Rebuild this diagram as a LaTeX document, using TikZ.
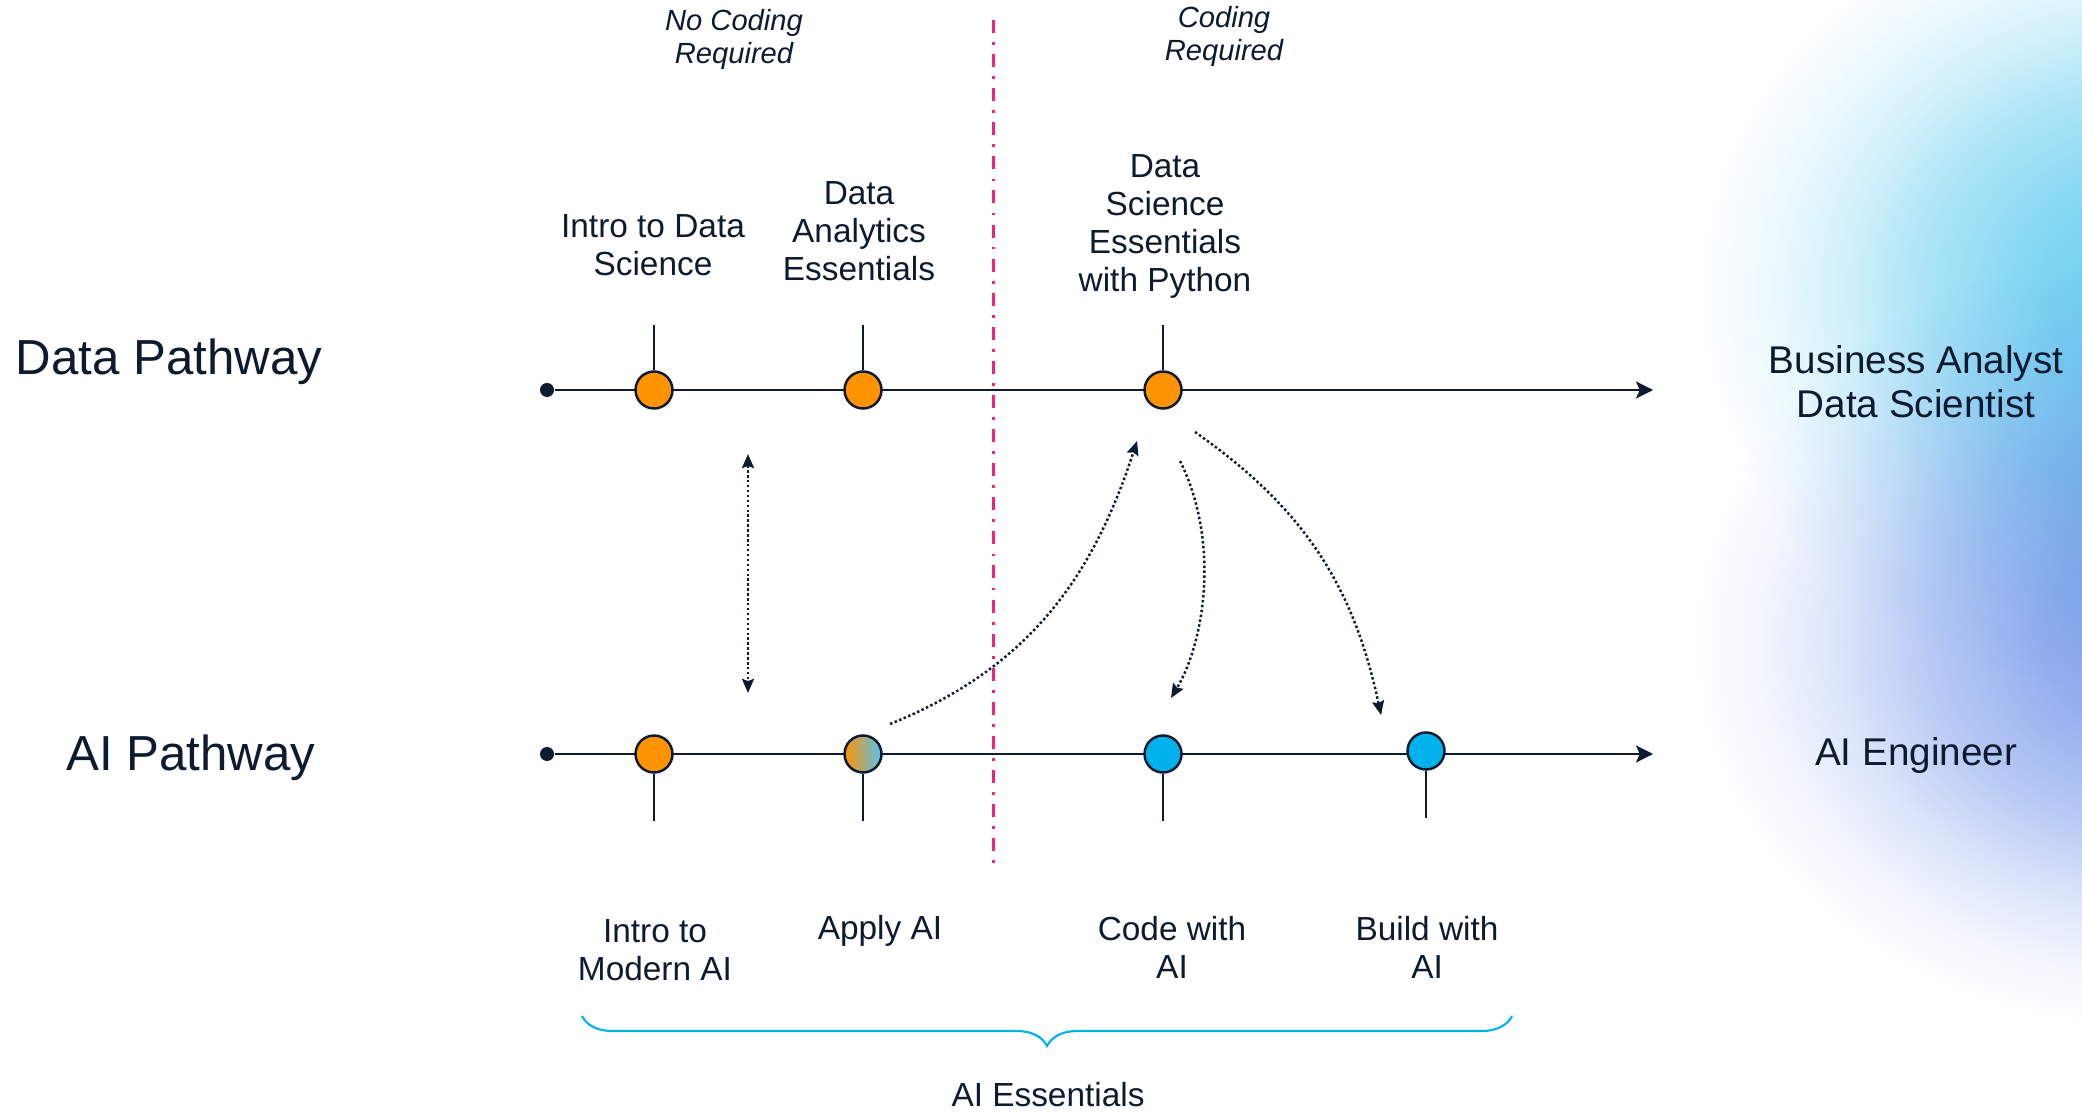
\documentclass[tikz,border=0pt]{standalone}
\usepackage{fontspec}
\setmainfont{Liberation Sans}
\usetikzlibrary{arrows.meta,decorations.pathreplacing}
\definecolor{ink}{HTML}{0E1A2F}
\definecolor{coral}{HTML}{FF9300}
\definecolor{sky}{HTML}{00B2EC}
\definecolor{rose}{HTML}{F2217C}
\definecolor{blend}{HTML}{D8A79B}
\definecolor{paleSky}{HTML}{55C3F0}
\definecolor{glowcyan}{HTML}{6CD0F0}
\definecolor{glowblue}{HTML}{86A4EC}
\pgfdeclareradialshading{cyanglow}{\pgfpointorigin}{color(0bp)=(glowcyan); color(4bp)=(glowcyan!88!white); color(8.5bp)=(glowcyan!58!white); color(12bp)=(glowcyan!28!white); color(15bp)=(glowcyan!9!white); color(17.5bp)=(white); color(50bp)=(white)}
\pgfdeclareradialshading{blueglow}{\pgfpointorigin}{color(0bp)=(glowblue); color(4bp)=(glowblue!88!white); color(8.5bp)=(glowblue!58!white); color(12bp)=(glowblue!28!white); color(15bp)=(glowblue!9!white); color(17.5bp)=(white); color(50bp)=(white)}
\tikzset{
    course/.style={circle,draw=ink,line width=0.7pt,minimum size=0.37cm,inner sep=0pt},
    startdot/.style={circle,fill=ink,minimum size=0.14cm,inner sep=0pt},
    timeline/.style={ink,line width=0.8pt,-{Stealth[length=4.8pt,width=4.8pt,inset=1pt]}},
    stem/.style={ink,line width=0.65pt},
    divider/.style={rose,line width=0.85pt,dash pattern=on 3.7pt off 2.6pt on 0.8pt off 2.6pt},
    hop/.style={ink,line width=0.7pt,dash pattern=on 0.7pt off 0.7pt},
    hoptip/.style={-{Stealth[length=4pt,width=3.4pt,inset=0.6pt]}},
    hopboth/.style={{Stealth[length=4pt,width=3.4pt,inset=0.6pt]}-{Stealth[length=4pt,width=3.4pt,inset=0.6pt]}},
    lbl/.style={text=ink,align=center,inner sep=0pt,font=\fontsize{9.5}{10.8}\selectfont},
    note/.style={text=ink,align=center,inner sep=0pt,font=\fontsize{8.3}{9.4}\selectfont\itshape},
    big/.style={text=ink,inner sep=0pt,anchor=base,font=\fontsize{14}{16}\selectfont},
    role/.style={text=ink,align=center,inner sep=0pt,font=\fontsize{11}{12.5}\selectfont},
    brace/.style={sky,line width=0.6pt,decorate,decoration={brace,mirror,amplitude=0.3cm}},
    glow/.style={shading=#1,blend mode=multiply}
}

\begin{document}
\begin{tikzpicture}
        \useasboundingbox (0,0) rectangle (20.82,11.11);
        \begin{scope}
            \clip (0,0) rectangle (20.82,11.11);
            \shade[glow=blueglow] (21.5,4.7) ellipse (6.6 and 5.6);
            \shade[glow=cyanglow] (21.5,8.2) ellipse (6.6 and 5.8);
        \end{scope}
        \coordinate (divtop) at (9.935,10.91);
        \coordinate (divbot) at (9.935,2.48);
        \draw[divider] (divtop)--(divbot);
        \node[startdot] (DS) at (5.47,7.21){};
        \node[startdot] (AS) at (5.47,3.57){};
        \coordinate (DE) at (16.53,7.21);
        \coordinate (AE) at (16.53,3.57);
        \draw[timeline] (DS)--(DE);
        \draw[timeline] (AS)--(AE);
        \node[course,fill=coral] (D1) at (6.54,7.21){};
        \node[course,fill=coral] (D2) at (8.63,7.21){};
        \node[course,fill=coral] (D3) at (11.63,7.21){};
        \node[course,fill=coral] (A1) at (6.54,3.57){};
        \node[course,left color=coral,middle color=blend,right color=paleSky] (A2) at (8.63,3.57){};
        \node[course,fill=sky] (A3) at (11.63,3.57){};
        \node[course,fill=sky] (A4) at (14.26,3.60){};
        \foreach \n in {D1,D2,D3}{
            \coordinate (\n top) at ([yshift=0.65cm]\n);
            \draw[stem] (\n)--(\n top);
        }
        \foreach \n in {A1,A2,A3,A4}{
            \coordinate (\n bot) at ([yshift=-0.67cm]\n);
            \draw[stem] (\n)--(\n bot);
        }
        \node[note] (nocode) at (7.34,10.715){No Coding\\Required};
        \node[note] (code) at (12.24,10.745){Coding\\Required};
        \node[lbl] (L1) at (6.53,8.655){Intro to Data\\Science};
        \node[lbl] (L2) at (8.59,8.795){Data\\Analytics\\Essentials};
        \node[lbl] (L3) at (11.65,8.845){Data\\Science\\Essentials\\with Python};
        \node[lbl] (L4) at (6.55,1.605){Intro to\\Modern AI};
        \node[lbl] (L5) at (8.80,1.80){Apply AI};
        \node[lbl] (L6) at (11.72,1.635){Code with\\AI};
        \node[lbl] (L7) at (14.27,1.635){Build with\\AI};
        \node[big] (DP) at (1.69,7.36){Data Pathway};
        \node[big] (AP) at (1.91,3.41){AI Pathway};
        \node[role] (R1) at (19.16,7.29){Business Analyst\\Data Scientist};
        \node[role] (R2) at (19.16,3.55){AI Engineer};
        % hops between the two pathways
        \coordinate (h1a) at (7.48,6.57);
        \coordinate (h1b) at (7.48,4.18);
        \draw[hop,hopboth] (h1a)--(h1b);
        \coordinate (h2a) at (8.90,3.87);
        \coordinate (h2b) at (11.37,6.70);
        \draw[hop,hoptip] (h2a) to[out=22,in=-108] (h2b);
        \coordinate (h3a) at (11.80,6.50);
        \coordinate (h3b) at (11.71,4.13);
        \draw[hop,hoptip] (h3a) .. controls (12.2,5.7) and (12.05,4.7) .. (h3b);
        \coordinate (h4a) at (11.95,6.79);
        \coordinate (h4b) at (13.81,3.96);
        \draw[hop,hoptip] (h4a) to[out=-35,in=102] (h4b);
        \coordinate (BL) at (5.82,0.95);
        \coordinate (BR) at (15.12,0.95);
        \draw[brace] (BL)--(BR);
        \node[lbl] (AIE) at (10.48,0.16){AI Essentials};
    \end{tikzpicture}
\end{document}
